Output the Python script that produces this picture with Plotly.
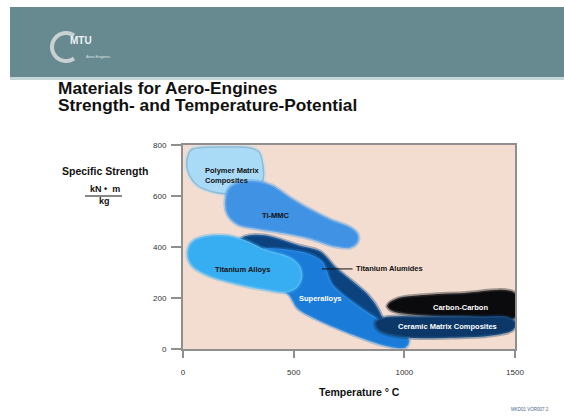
import numpy as np
import plotly.graph_objects as go

# ---- axis ticks -------------------------------------------------------
x_ticks = [0, 500, 1000, 1500]
y_ticks = [0, 200, 400, 600, 800]

# ---- material regions: outline (temperature °C, specific strength kN·m/kg)
pmc_temp = [18, 36, 81, 217, 307, 343, 361, 361, 329, 239, 135, 63, 23]
pmc_str = [741, 780, 790, 792, 788, 773, 722, 663, 624, 608, 616, 643, 694]

timmc_temp = [194, 212, 257, 339, 402, 483, 574, 664, 755, 786, 786, 755, 687, 574, 438, 325, 249, 203]
timmc_str = [584, 631, 651, 655, 639, 592, 545, 506, 475, 451, 420, 400, 404, 435, 459, 475, 490, 529]

tial_temp = [249, 280, 370, 520, 619, 687, 764, 836, 881, 899, 868, 800, 664, 529, 393, 280, 240]
tial_str = [416, 439, 443, 404, 380, 318, 263, 208, 153, 106, 82, 106, 192, 251, 310, 357, 388]

super_temp = [357, 461, 574, 628, 674, 764, 868, 958, 1017, 1003, 913, 755, 597, 520, 483, 429, 370, 339]
super_str = [388, 388, 369, 341, 251, 184, 122, 75, 35, 8, 16, 63, 122, 161, 212, 251, 310, 357]

tialloy_temp = [23, 45, 99, 190, 280, 370, 483, 529, 529, 483, 370, 235, 113, 41]
tialloy_str = [380, 420, 439, 443, 424, 388, 357, 318, 263, 227, 235, 259, 290, 329]

cc_temp = [926, 971, 1071, 1251, 1500, 1500, 1296, 1116, 1003, 944]
cc_str = [169, 196, 208, 216, 216, 125, 129, 133, 141, 153]

cmc_temp = [872, 913, 1071, 1342, 1468, 1500, 1486, 1386, 1206, 1025, 913, 877]
cmc_str = [106, 122, 125, 125, 122, 102, 75, 55, 47, 47, 63, 82]

regions = [
    ("Polymer Matrix Composites", pmc_temp, pmc_str, "#a9daf6", "#8dbbd8"),
    ("Ti-MMC", timmc_temp, timmc_str, "#3f92e4", "#5aa2e8"),
    ("Titanium Alumides", tial_temp, tial_str, "#0c437f", "#1a5a9c"),
    ("Superalloys", super_temp, super_str, "#1b7bd8", "#2a86dc"),
    ("Titanium Alloys", tialloy_temp, tialloy_str, "#37adf2", "#55b9f2"),
    ("Carbon-Carbon", cc_temp, cc_str, "#0b0b0d", "#26262a"),
    ("Ceramic Matrix Composites", cmc_temp, cmc_str, "#0b3868", "#1a4a7c"),
]

# ---- figure geometry (pixels) ----------------------------------------
W, H = 564, 419
PL, PR, PT, PB = 183, 515, 145, 349


def px(x):
    return (x - PL) / (PR - PL)


def py(y):
    return (PB - y) / (PB - PT)


def rgba(hex_color, a):
    h = hex_color.lstrip("#")
    r, g, b = (int(h[i:i + 2], 16) for i in (0, 2, 4))
    return f"rgba({r},{g},{b},{a})"


FONT = "Liberation Sans, Arial, sans-serif"

fig = go.Figure()

for name, t, s, fill, edge in regions:
    xs, ys = t + [t[0]], s + [s[0]]
    # soft halo around each region
    fig.add_trace(go.Scatter(
        x=xs, y=ys, mode="lines",
        line=dict(color=rgba(fill, 0.35), width=5, shape="spline", smoothing=1.0),
        hoverinfo="skip", showlegend=False,
    ))
    fig.add_trace(go.Scatter(
        x=xs, y=ys, mode="lines",
        line=dict(color=edge, width=1.5, shape="spline", smoothing=1.0),
        fill="toself", fillcolor=fill, name=name, hoverinfo="skip",
        showlegend=False,
    ))

# region labels
labels = [
    ("<b>Polymer Matrix<br>Composites</b>", 90, 682, "left", "#111"),
    ("<b>Ti-MMC</b>", 420, 522, "center", "#111"),
    ("<b>Titanium Alloys</b>", 267, 310, "center", "#111"),
    ("<b>Titanium Alumides</b>", 773, 314, "left", "#111"),
    ("<b>Superalloys</b>", 619, 200, "center", "#ffffff"),
    ("<b>Carbon-Carbon</b>", 1256, 161, "center", "#ffffff"),
    ("<b>Ceramic Matrix Composites</b>", 1197, 90, "center", "#ffffff"),
]
for txt, xv, yv, anc, col in labels:
    fig.add_annotation(x=xv, y=yv, xref="x", yref="y", text=txt, showarrow=False,
                       xanchor=anc, yanchor="middle", align="left",
                       font=dict(family=FONT, size=7.5, color=col))

# leader line for Titanium Alumides
fig.add_shape(type="line", xref="x", yref="y", x0=628, x1=766, y0=314, y1=314,
              line=dict(color="#111", width=1))

# ---- header band and logo ---------------------------------------------
fig.add_shape(type="rect", xref="paper", yref="paper", layer="below",
              x0=px(10), x1=px(564), y0=py(77), y1=py(7),
              fillcolor="#678990", line=dict(width=0))
fig.add_shape(type="rect", xref="paper", yref="paper", layer="below",
              x0=px(10), x1=px(564), y0=py(80), y1=py(77),
              fillcolor="#c6d6d8", line=dict(width=0))

ang = np.linspace(np.radians(55), np.radians(305), 40)
cx, cy, r = 66, 47, 14
pts = [(px(cx + r * np.cos(a)), py(cy - r * np.sin(a))) for a in ang]
path = "M " + " L ".join(f"{a:.4f},{b:.4f}" for a, b in pts)
fig.add_shape(type="path", xref="paper", yref="paper", path=path,
              line=dict(color="#c9d1d3", width=4))
fig.add_annotation(x=px(68), y=py(40), xref="paper", yref="paper", text="<b>MTU</b>",
                   showarrow=False, xanchor="left", yanchor="middle",
                   font=dict(family=FONT, size=10, color="#eef2f3"))
fig.add_annotation(x=px(84), y=py(56), xref="paper", yref="paper", text="Aero Engines",
                   showarrow=False, xanchor="left", yanchor="middle",
                   font=dict(family=FONT, size=4, color="#dfe6e7"))

# ---- titles -------------------------------------------------------------
fig.add_annotation(x=px(56), y=py(88), xref="paper", yref="paper",
                   text="<b>Materials for Aero-Engines</b>", showarrow=False,
                   xanchor="left", yanchor="middle",
                   font=dict(family=FONT, size=17.3, color="#111"))
fig.add_annotation(x=px(56), y=py(105), xref="paper", yref="paper",
                   text="<b>Strength- and Temperature-Potential</b>", showarrow=False,
                   xanchor="left", yanchor="middle",
                   font=dict(family=FONT, size=17.3, color="#111"))

fig.add_annotation(x=px(105), y=py(171), xref="paper", yref="paper",
                   text="<b>Specific Strength</b>", showarrow=False,
                   xanchor="center", yanchor="middle",
                   font=dict(family=FONT, size=10.5, color="#111"))
fig.add_annotation(x=px(105), y=py(189), xref="paper", yref="paper",
                   text="<b>kN \u2022\u00a0 m</b>", showarrow=False,
                   xanchor="center", yanchor="middle",
                   font=dict(family=FONT, size=9, color="#111"))
fig.add_annotation(x=px(104), y=py(201), xref="paper", yref="paper",
                   text="<b>kg</b>", showarrow=False,
                   xanchor="center", yanchor="middle",
                   font=dict(family=FONT, size=9, color="#111"))
fig.add_shape(type="line", xref="paper", yref="paper",
              x0=px(85), x1=px(122), y0=py(196), y1=py(196),
              line=dict(color="#111", width=1))

fig.add_annotation(x=px(359), y=py(392), xref="paper", yref="paper",
                   text="<b>Temperature ° C</b>", showarrow=False,
                   xanchor="center", yanchor="middle",
                   font=dict(family=FONT, size=10.5, color="#111"))

fig.add_annotation(x=px(530), y=py(409), xref="paper", yref="paper",
                   text="MKD01 VOR007 2", showarrow=False,
                   xanchor="center", yanchor="middle",
                   font=dict(family=FONT, size=4.5, color="#4a5f8a"))

axis_common = dict(
    showgrid=False, zeroline=False, showline=True, mirror=True,
    linecolor="#8f8f8f", linewidth=2, ticks="outside", tickcolor="#8f8f8f",
    tickwidth=1.5, tickfont=dict(family=FONT, size=8, color="#333"),
    fixedrange=True,
)
fig.update_xaxes(range=[0, 1500], tickvals=x_ticks, ticklen=7,
                 ticklabelstandoff=7, **axis_common)
fig.update_yaxes(range=[0, 800], tickvals=y_ticks, ticklen=10,
                 ticklabelstandoff=3, **axis_common)

fig.update_layout(
    width=W, height=H,
    margin=dict(l=PL, r=W - PR, t=PT, b=H - PB, pad=0),
    paper_bgcolor="#ffffff", plot_bgcolor="#f3ddd0",
    showlegend=False, hovermode=False,
)

fig.write_html("out.html")
